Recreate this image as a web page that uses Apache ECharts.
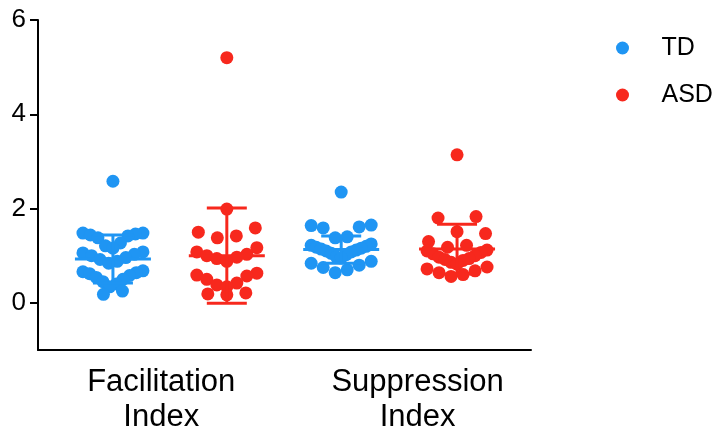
<!DOCTYPE html>
<html>
<head>
<meta charset="utf-8">
<script src="https://cdn.jsdelivr.net/npm/echarts@6/dist/echarts.min.js"></script>
<style>
html,body{margin:0;padding:0;background:#fff;}
#chart{width:717px;height:432px;}
</style>
</head>
<body>
<div id="chart"></div>
<script>
// ---- data ----
const categories = ['Facilitation Index', 'Suppression Index'];
const groups = ['TD', 'ASD'];
const yTickValues = [0, 2, 4, 6];

const tdFacilitation = [2.58, 1.48, 1.48, 1.46, 1.44, 1.42, 1.38, 1.27, 1.21, 1.16,
  1.08, 1.06, 1.03, 1.00, 0.96, 0.92, 0.88, 0.84,
  0.68, 0.66, 0.64, 0.62, 0.58, 0.54, 0.50, 0.45, 0.40, 0.34, 0.25, 0.18];
const asdFacilitation = [5.20, 1.99, 1.59, 1.50, 1.42, 1.38,
  1.17, 1.08, 1.03, 1.00, 0.97, 0.94, 0.88,
  0.63, 0.59, 0.57, 0.50, 0.42, 0.38, 0.34, 0.21, 0.19, 0.17];
const tdSuppression = [2.35, 1.65, 1.64, 1.61, 1.59, 1.40, 1.38,
  1.25, 1.22, 1.20, 1.18, 1.16, 1.14, 1.12, 1.10, 1.08, 1.05, 1.02, 0.98, 0.95,
  0.88, 0.84, 0.80, 0.75, 0.70, 0.64];
const asdSuppression = [3.14, 1.83, 1.80, 1.51, 1.47, 1.30, 1.22, 1.18,
  1.12, 1.10, 1.07, 1.04, 1.00, 0.97, 0.94, 0.92, 0.90, 0.86, 0.82,
  0.76, 0.72, 0.68, 0.64, 0.60, 0.56];

const tdMean = [0.93, 1.13];
const tdSD = [0.51, 0.29];
const asdMean = [1.00, 1.14];
const asdSD = [1.01, 0.53];

// ---- layout / style ----
const BLUE = '#1f95f3';
const RED = '#f7281d';
const FONT = "'Liberation Sans', Arial, Helvetica, sans-serif";
const centers = { TD: [1.52, 6.15], ASD: [3.83, 8.5] };
const labelPos = [2.5, 7.7];

const chart = echarts.init(document.getElementById('chart'), null, { renderer: 'canvas' });

const baseOption = {
  animation: false,
  backgroundColor: '#fff',
  textStyle: { fontFamily: FONT },
  grid: { left: 38, right: 186, top: 20, bottom: 82, containLabel: false, outerBoundsMode: 'none' },
  legend: {
    orient: 'vertical', left: 611, top: 29,
    itemWidth: 68, itemHeight: 13, itemGap: 19,
    icon: 'circle', symbolKeepAspect: true,
    data: groups,
    textStyle: { fontSize: 25, lineHeight: 28, color: '#000', fontFamily: FONT }
  },
  xAxis: {
    type: 'value', min: 0, max: 10,
    splitLine: { show: false },
    axisTick: { show: false },
    axisLine: { show: true, onZero: false, lineStyle: { color: '#000', width: 2 } },
    axisLabel: {
      customValues: labelPos,
      formatter: function (v) {
        const i = labelPos.findIndex(p => Math.abs(p - v) < 1e-6);
        return i >= 0 ? categories[i].replace(' ', '\n') : '';
      },
      fontSize: 31, lineHeight: 35, margin: 15, color: '#000', fontFamily: FONT
    }
  },
  yAxis: {
    type: 'value', min: -1, max: 6,
    splitLine: { show: false },
    axisLine: { show: true, onZero: false, lineStyle: { color: '#000', width: 2 } },
    axisTick: { show: true, length: 8, customValues: yTickValues, lineStyle: { color: '#000', width: 2 } },
    axisLabel: { customValues: yTickValues, fontSize: 26, margin: 12, color: '#000', fontFamily: FONT }
  },
  series: [
    { name: 'TD', type: 'scatter', data: [], itemStyle: { color: BLUE } },
    { name: 'ASD', type: 'scatter', data: [], itemStyle: { color: RED } }
  ]
};
chart.setOption(baseOption);

// pixel scale from the library's own axes
const pxPerX = chart.convertToPixel({ xAxisIndex: 0 }, 1) - chart.convertToPixel({ xAxisIndex: 0 }, 0);

// Prism-like row layout: rows of close values, spread symmetric around center
function swarmOffsets(values, rowH, maxHalf, spacing) {
  const idx = values.map((v, i) => i).sort((a, b) => values[b] - values[a]);
  const off = new Array(values.length).fill(0);
  let k = 0;
  while (k < idx.length) {
    const start = values[idx[k]];
    const row = [];
    while (k < idx.length && values[idx[k]] > start - rowH) { row.push(idx[k]); k++; }
    row.sort((a, b) => values[a] - values[b]);
    const n = row.length;
    const s = n > 1 ? Math.min(spacing, 2 * maxHalf / (n - 1)) : 0;
    row.forEach((ii, j) => {
      let o;
      if (n % 2 === 1) {
        const m = Math.ceil(j / 2);
        o = (j % 2 === 1 ? -1 : 1) * m * s;
      } else {
        const m = Math.floor(j / 2) + 0.5;
        o = (j % 2 === 0 ? -1 : 1) * m * s;
      }
      off[ii] = o;
    });
  }
  return off;
}

function points(values, cx) {
  const off = swarmOffsets(values, 0.35, 30, 19);
  return values.map((v, i) => [cx + off[i] / pxPerX, v]);
}

const tdPoints = points(tdFacilitation, centers.TD[0]).concat(points(tdSuppression, centers.TD[1]));
const asdPoints = points(asdFacilitation, centers.ASD[0]).concat(points(asdSuppression, centers.ASD[1]));

function errRender(color) {
  return function (params, api) {
    const x = api.value(0), m = api.value(1), sd = api.value(2);
    const c = api.coord([x, m]);
    const t = api.coord([x, m + sd]);
    const b = api.coord([x, m - sd]);
    const st = { stroke: color, lineWidth: 3 };
    const ln = (x1, y1, x2, y2) => ({ type: 'line', shape: { x1, y1, x2, y2 }, style: st });
    return {
      type: 'group',
      children: [
        ln(c[0], t[1], c[0], b[1]),
        ln(c[0] - 20, t[1], c[0] + 20, t[1]),
        ln(c[0] - 20, b[1], c[0] + 20, b[1]),
        ln(c[0] - 38, c[1], c[0] + 38, c[1])
      ]
    };
  };
}

chart.setOption({
  series: [
    { name: 'TD', type: 'scatter', symbolSize: 13, data: tdPoints, itemStyle: { color: BLUE, opacity: 1 }, z: 2 },
    { name: 'ASD', type: 'scatter', symbolSize: 13, data: asdPoints, itemStyle: { color: RED, opacity: 1 }, z: 2 },
    { name: 'TD error', type: 'custom', renderItem: errRender(BLUE), z: 3,
      data: tdMean.map((m, i) => [centers.TD[i], m, tdSD[i]]) },
    { name: 'ASD error', type: 'custom', renderItem: errRender(RED), z: 3,
      data: asdMean.map((m, i) => [centers.ASD[i], m, asdSD[i]]) }
  ]
});
</script>
</body>
</html>
